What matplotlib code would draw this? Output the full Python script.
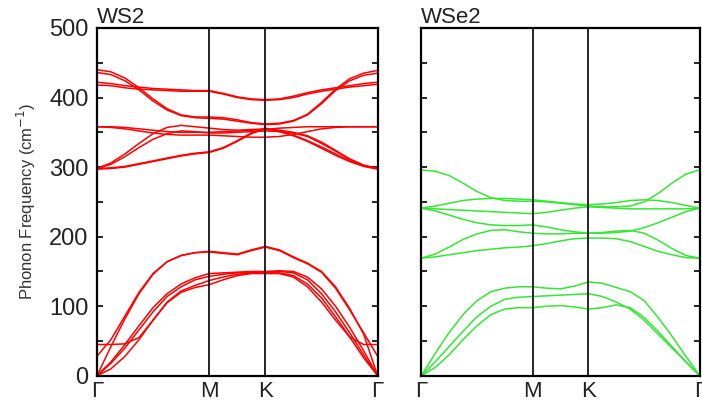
import numpy as np
import matplotlib
matplotlib.use("Agg")
import matplotlib.pyplot as plt
from matplotlib.ticker import MultipleLocator

plt.rcParams['font.family'] = ['Liberation Sans', 'DejaVu Sans']

# k-path positions: Gamma - M - K - Gamma
kpath = np.array([0.00, 0.05, 0.10, 0.15, 0.20, 0.25, 0.30, 0.35, 0.40, 0.45,
                  0.50, 0.55, 0.60, 0.65, 0.70, 0.75, 0.80, 0.85, 0.90, 0.95, 1.00])
kpoint_pos = [0.0, 0.4, 0.6, 1.0]
kpoint_labels = ['Γ', 'M', 'K', 'Γ']

# WS2 bands (cm^-1)
ws2_bands = [
    [440, 437, 428, 414, 398, 384, 375, 372, 372, 371, 368, 364, 362, 363, 367, 376, 393, 412, 427, 435, 439],
    [436, 433, 424, 411, 395, 382, 374, 371, 370, 369, 366, 363, 361, 362, 366, 375, 391, 410, 424, 432, 435],
    [422, 420, 417, 415, 413, 412, 411, 410, 410, 406, 401, 398, 397, 398, 402, 407, 411, 414, 417, 420, 422],
    [418, 417, 414, 412, 411, 410, 409, 409, 409, 405, 400, 397, 396, 397, 400, 405, 409, 412, 415, 417, 419],
    [358, 357, 355, 352, 349, 347, 346, 346, 346, 345, 344, 343, 343, 344, 347, 351, 355, 357, 358, 358, 358],
    [358, 358, 357, 355, 353, 351, 350, 350, 350, 351, 352, 353, 354, 356, 357, 358, 358, 358, 358, 358, 358],
    [298, 306, 319, 334, 348, 357, 360, 358, 356, 354, 353, 354, 355, 353, 350, 345, 336, 324, 312, 303, 298],
    [298, 304, 315, 328, 340, 348, 352, 351, 349, 349, 350, 351, 352, 351, 349, 344, 334, 323, 311, 302, 298],
    [298, 299, 301, 305, 309, 313, 317, 320, 322, 328, 338, 349, 356, 352, 346, 338, 329, 319, 309, 302, 298],
    [297, 298, 300, 304, 308, 312, 316, 319, 321, 327, 337, 348, 355, 351, 345, 337, 327, 317, 308, 301, 297],
    [0, 42, 82, 118, 146, 164, 173, 177, 179, 177, 175, 181, 186, 181, 171, 162, 150, 128, 97, 60, 0],
    [28, 52, 86, 120, 147, 164, 173, 177, 178, 176, 174, 180, 185, 180, 170, 161, 149, 126, 95, 62, 28],
    [0, 20, 45, 72, 98, 118, 132, 141, 147, 148, 149, 150, 150, 151, 150, 142, 125, 100, 70, 36, 0],
    [0, 18, 40, 66, 92, 114, 128, 138, 143, 146, 148, 149, 149, 150, 148, 138, 118, 92, 62, 30, 0],
    [0, 10, 28, 52, 80, 106, 122, 130, 137, 142, 146, 148, 148, 148, 144, 132, 112, 85, 56, 26, 0],
    [45, 45, 46, 55, 80, 105, 120, 127, 131, 138, 144, 147, 147, 147, 142, 128, 106, 80, 56, 45, 45],
]

# WSe2 bands (cm^-1)
wse2_bands = [
    [296, 294, 288, 277, 265, 256, 252, 251, 251, 250, 248, 246, 244, 243, 243, 244, 250, 262, 277, 290, 296],
    [241, 244, 248, 252, 254, 255, 255, 254, 253, 251, 249, 247, 246, 247, 249, 252, 253, 252, 249, 245, 241],
    [241, 240, 239, 238, 237, 236, 235, 234, 233, 235, 238, 241, 243, 242, 241, 240, 240, 240, 240, 240, 241],
    [241, 237, 231, 225, 220, 217, 216, 216, 217, 214, 210, 207, 205, 205, 206, 208, 213, 220, 228, 236, 241],
    [169, 175, 185, 196, 204, 209, 210, 207, 205, 204, 204, 205, 205, 206, 208, 209, 205, 195, 183, 173, 169],
    [169, 171, 174, 177, 180, 182, 184, 185, 187, 190, 194, 197, 198, 198, 197, 193, 186, 179, 174, 170, 169],
    [0, 32, 62, 88, 108, 121, 126, 128, 128, 126, 125, 129, 135, 133, 127, 121, 108, 84, 57, 28, 0],
    [0, 20, 42, 64, 85, 100, 110, 113, 114, 115, 116, 117, 118, 114, 106, 96, 80, 60, 40, 20, 0],
    [0, 12, 30, 52, 72, 88, 96, 98, 98, 100, 101, 99, 96, 98, 102, 98, 84, 64, 42, 20, 0],
]

fig = plt.figure(figsize=(7.02, 4.05), dpi=100)
ax1 = fig.add_axes([0.138, 0.072, 0.400, 0.859])
ax2 = fig.add_axes([0.600, 0.072, 0.397, 0.859])

panels = [(ax1, ws2_bands, '#ff0000', 'WS2'), (ax2, wse2_bands, '#35e635', 'WSe2')]
for ax, bands, color, name in panels:
    for band in bands:
        ax.plot(kpath, band, color=color, lw=1.1)
    for xv in kpoint_pos[1:3]:
        ax.axvline(xv, color='black', lw=1.2)
    ax.set_xlim(0, 1)
    ax.set_ylim(0, 500)
    ax.set_xticks(kpoint_pos)
    ax.set_xticklabels(kpoint_labels, fontsize=16, color='#222222')
    ax.tick_params(axis='x', length=0, pad=4)
    ax.yaxis.set_major_locator(MultipleLocator(100))
    ax.yaxis.set_minor_locator(MultipleLocator(50))
    ax.tick_params(axis='y', which='both', direction='in', length=4, width=1.2,
                   left=True, right=True, labelsize=17, labelcolor='#222222', pad=6)
    for sp in ax.spines.values():
        sp.set_linewidth(1.6)
    ax.set_title(name, loc='left', fontsize=16, pad=3, color='#222222')

ax1.set_ylabel('Phonon Frequency (cm$^{-1}$)', fontsize=12, color='#333333', labelpad=8)
ax2.tick_params(axis='y', labelleft=False)

plt.savefig('out.png', dpi=100)
